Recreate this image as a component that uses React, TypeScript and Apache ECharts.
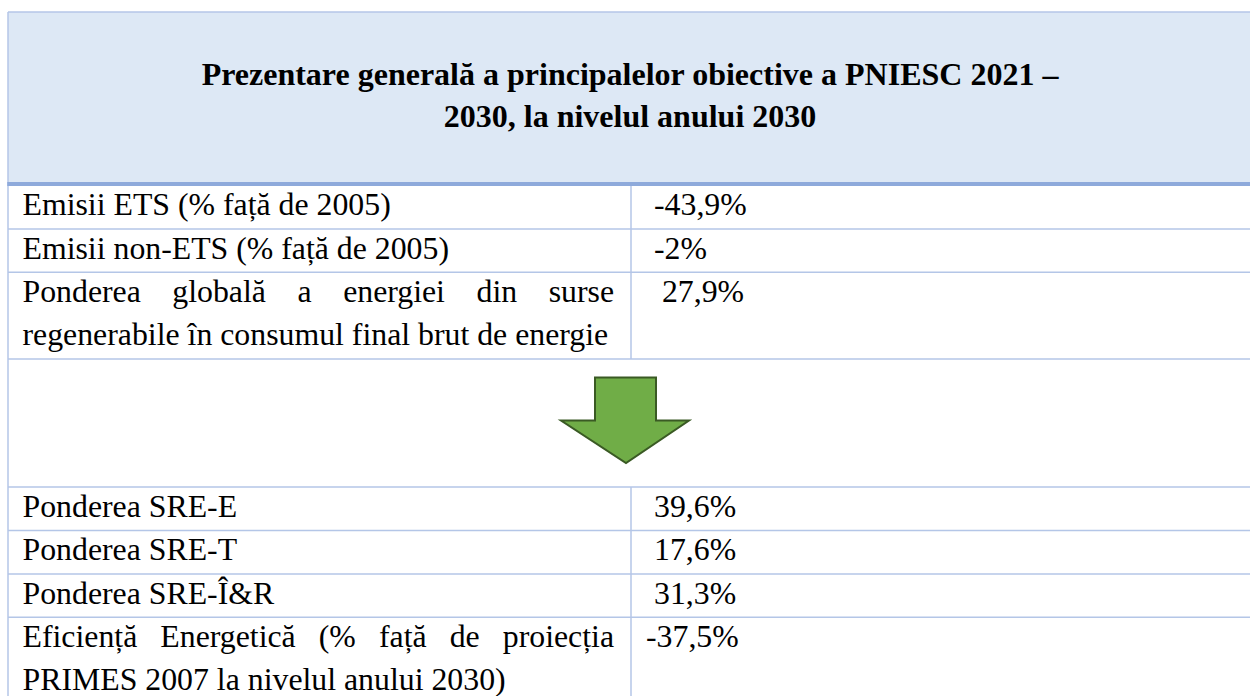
import React, { useEffect, useRef } from "react";
import * as echarts from "echarts";

// ---- content ----
const titleLines = [
  "Prezentare generală a principalelor obiective a PNIESC 2021 –",
  "2030, la nivelul anului 2030",
];
const topLabels = [
  ["Emisii ETS (% față de 2005)"],
  ["Emisii non-ETS (% față de 2005)"],
  ["Ponderea globală a energiei din surse", "regenerabile în consumul final brut de energie"],
];
const topValues = ["-43,9%", "-2%", " 27,9%"];
const bottomLabels = [
  ["Ponderea SRE-E"],
  ["Ponderea SRE-T"],
  ["Ponderea SRE-Î&R"],
  ["Eficiență Energetică (% față de proiecția", "PRIMES 2007 la nivelul anului 2030)"],
];
const bottomValues = ["39,6%", "17,6%", "31,3%", "-37,5%"];

// ---- layout / style ----
const W = 1250;
const H = 696;
const LEFT = 8;
const TOP = 12;
const HEADER_LINE_Y = 184;
const COL_X = 631;
const LINE_H = 43.4;
const ARROW_ROW_H = 128;
const TEXT_X = 22.5;
const TEXT_RIGHT = 614;
const VAL_X = 654;
const BOTTOM_VAL_SHIFT = [0, 0, 0, -8];
const FS = 31.8;
const TITLE_FS = 32;
const BASE_OFF = 30; // baseline offset from row top
const FONT_FAMILY = "'Liberation Serif', 'Times New Roman', serif";
const GRID = "#b4c6e7";
const GRID_DARK = "#8eaadb";
const HEADER_FILL = "#dde8f5";
const MID = 0.34; // central-baseline offset factor

function measure(text: string, font: string): number {
  const c = document.createElement("canvas");
  const ctx = c.getContext("2d")!;
  ctx.font = font;
  return ctx.measureText(text).width;
}

function textEl(text: string, x: number, baseline: number, fs: number, bold = false, align = "left") {
  const font = `${bold ? "bold " : ""}${fs}px ${FONT_FAMILY}`;
  return {
    type: "text",
    x,
    y: baseline - MID * fs,
    silent: true,
    style: {
      text,
      font,
      fill: "#000",
      align,
      verticalAlign: "middle",
      textAlign: align,
      textVerticalAlign: "middle",
    },
  };
}

function lineEls(line: string, baseline: number, justify: boolean): any[] {
  if (!justify) return [textEl(line, TEXT_X, baseline, FS)];
  const font = `${FS}px ${FONT_FAMILY}`;
  const words = line.split(" ");
  const widths = words.map((w) => measure(w, font));
  const total = widths.reduce((a, b) => a + b, 0);
  const gap = (TEXT_RIGHT - TEXT_X - total) / (words.length - 1);
  const out: any[] = [];
  let x = TEXT_X;
  words.forEach((w, i) => {
    out.push(textEl(w, x, baseline, FS));
    x += widths[i] + gap;
  });
  return out;
}

function hLine(y: number, x1: number, x2: number, color: string, w: number) {
  return { type: "line", silent: true, shape: { x1, y1: y, x2, y2: y }, style: { stroke: color, lineWidth: w } };
}
function vLine(x: number, y1: number, y2: number, color: string, w: number) {
  return { type: "line", silent: true, shape: { x1: x, y1, x2: x, y2 }, style: { stroke: color, lineWidth: w } };
}

function buildElements(): any[] {
  const els: any[] = [];
  // header
  els.push({ type: "rect", silent: true, shape: { x: LEFT, y: TOP, width: W - LEFT, height: HEADER_LINE_Y - TOP }, style: { fill: HEADER_FILL } });
  els.push(hLine(TOP, LEFT, W, GRID, 1.5));
  titleLines.forEach((t, i) => {
    els.push(textEl(t, 630, 85 + i * 41.7, TITLE_FS, true, "center"));
  });

  let y = HEADER_LINE_Y + 1.5;
  const rowSep: number[] = [];
  const colSegs: [number, number][] = [];

  const addRows = (labels: string[][], values: string[], shifts: number[]) => {
    labels.forEach((lines, r) => {
      const top = y;
      lines.forEach((ln, li) => {
        const justify = li < lines.length - 1;
        els.push(...lineEls(ln, top + BASE_OFF + li * LINE_H, justify));
      });
      els.push(textEl(values[r], VAL_X + (shifts[r] || 0), top + BASE_OFF, FS));
      y += lines.length * LINE_H;
      colSegs.push([top, y]);
      rowSep.push(y);
    });
  };

  addRows(topLabels, topValues, [0, 0, 0]);
  // arrow row
  const arrowTop = y;
  y += ARROW_ROW_H;
  rowSep.push(y);
  els.push({
    type: "polygon",
    silent: true,
    shape: {
      points: [
        [595, arrowTop + 18.5],
        [656, arrowTop + 18.5],
        [656, arrowTop + 61.5],
        [689, arrowTop + 61.5],
        [626, arrowTop + 104],
        [561, arrowTop + 61.5],
        [595, arrowTop + 61.5],
      ],
    },
    style: { fill: "#70ad47", stroke: "#3a5a24", lineWidth: 2, lineJoin: "miter" },
  });
  addRows(bottomLabels, bottomValues, BOTTOM_VAL_SHIFT);

  rowSep.forEach((sy) => {
    if (sy < H) els.push(hLine(sy, LEFT, W, GRID, 1.5));
  });
  colSegs.forEach(([a, b]) => els.push(vLine(COL_X, a, Math.min(b, H), GRID, 1.5)));
  els.push(vLine(LEFT, TOP, H, GRID, 1.5));
  els.push(hLine(HEADER_LINE_Y, LEFT - 0.75, W, GRID_DARK, 4));
  return els;
}

export default function App() {
  const ref = useRef<HTMLDivElement>(null);
  useEffect(() => {
    document.body.style.margin = "0";
    const chart = echarts.init(ref.current!, undefined, { renderer: "svg" });
    chart.setOption({
      animation: false,
      backgroundColor: "#ffffff",
      graphic: { elements: buildElements() },
    });
    return () => chart.dispose();
  }, []);
  return (
    <div
      ref={ref}
      style={{ position: "fixed", left: 0, top: 0, width: W, height: H, background: "#fff" }}
    />
  );
}
